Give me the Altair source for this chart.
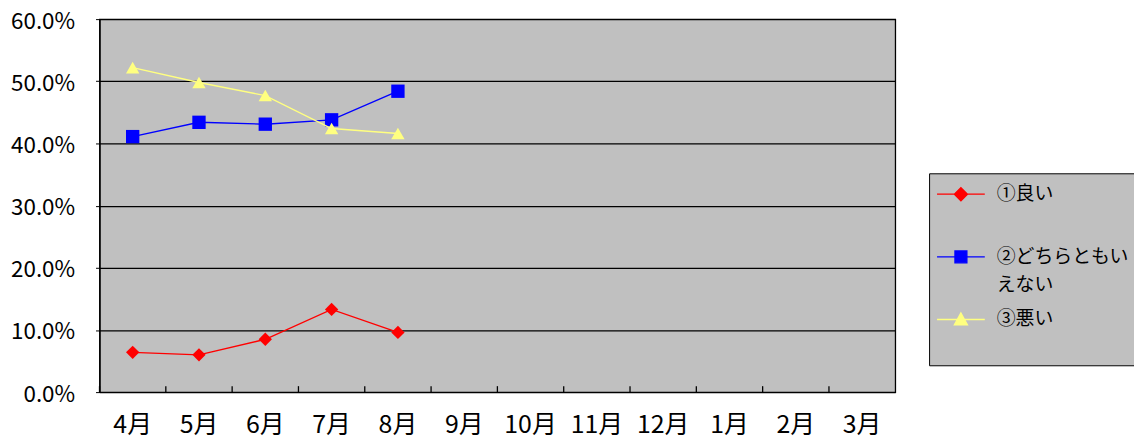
import altair as alt
import pandas as pd

months = ["4月", "5月", "6月", "7月", "8月", "9月", "10月", "11月", "12月", "1月", "2月", "3月"]
series_names = ["①良い", "②どちらともいえない", "③悪い"]
good = [0.064, 0.060, 0.085, 0.133, 0.096]
neutral = [0.411, 0.434, 0.431, 0.438, 0.484]
bad = [0.522, 0.498, 0.477, 0.424, 0.416]

series_values = [good, neutral, bad]

rows = []
for name, vals in zip(series_names, series_values):
    for m, v in zip(months, vals):
        rows.append({"month": m, "series": name, "value": v})
df = pd.DataFrame(rows)
months_df = pd.DataFrame({"month": months})

# styles
colors = ["#ff0000", "#0000ff", "#ffff80"]
shapes = ["diamond", "square", "triangle-up"]
legend_paths = [
    "M-2,0H2M0,-0.55L0.55,0L0,0.55L-0.55,0Z",
    "M-2,0H2M-0.5,-0.5H0.5V0.5H-0.5Z",
    "M-2,0H2M0,-0.55L0.55,0.45L-0.55,0.45Z",
]
FONT = "Noto Sans CJK JP"
W, H = 800, 375
PLOT_BG = "#c0c0c0"

x_scale = alt.Scale(type="band", domain=months, paddingInner=0, paddingOuter=0)
x_axis = alt.Axis(title=None, labelAngle=0, ticks=False, domain=False, labelFont=FONT,
                  labelFontSize=25, labelColor="black", labelPadding=21, grid=False)
y_enc = alt.Y("value:Q", scale=alt.Scale(domain=[0, 0.6], nice=False),
              axis=alt.Axis(title=None, format=".1%", values=[0, 0.1, 0.2, 0.3, 0.4, 0.5, 0.6],
                            grid=True, gridColor="black", gridWidth=1.3, gridOpacity=1,
                            domain=True, domainColor="black", domainWidth=1.3,
                            tickColor="black", tickSize=4, labelFont=FONT, labelFontSize=22.5,
                            labelColor="black", labelPadding=21, labelOffset=2))

layers = []
# inward x ticks at category boundaries
ticks = alt.Chart(months_df).mark_rule(color="black", strokeWidth=1.3).encode(
    x=alt.X("month:N", sort=months, scale=x_scale, axis=x_axis, bandPosition=0),
    y=alt.value(H),
    y2=alt.value(H - 6),
)
layers.append(ticks)

for name, c, s in zip(series_names, colors, shapes):
    sub = alt.Chart(df).transform_filter(alt.datum.series == name)
    enc = dict(x=alt.X("month:N", sort=months, scale=x_scale, axis=x_axis, bandPosition=0.5), y=y_enc)
    layers.append(sub.mark_line(color=c, strokeWidth=1.4).encode(**enc))
    layers.append(sub.mark_point(shape=s, filled=True, size=180, color=c, opacity=1).encode(**enc))

legend = alt.Legend(title=None, orient="none", legendX=834, legendY=155,
                    fillColor=PLOT_BG, strokeColor="black", padding=8,
                    symbolSize=576, symbolStrokeWidth=1.3, symbolOffset=11,
                    labelOffset=23, labelFont=FONT, labelFontSize=19, labelColor="black",
                    labelLimit=400, rowPadding=12,
                    labelExpr="datum.label == '②どちらともいえない' ? ['　②どちらともい', ' えない'] : ['　' + datum.label, '']")
leg_scale_color = alt.Scale(domain=series_names, range=colors)
legend_layer = alt.Chart(df).transform_filter("false").mark_point(filled=True, opacity=1).encode(
    stroke=alt.Stroke("series:N", scale=leg_scale_color, legend=legend),
    fill=alt.Fill("series:N", scale=leg_scale_color, legend=legend),
    shape=alt.Shape("series:N", scale=alt.Scale(domain=series_names, range=legend_paths), legend=legend),
)
layers.append(legend_layer)

chart = alt.layer(*layers).properties(
    width=W, height=H,
    padding={"left": 92, "top": 10, "right": 240, "bottom": 55},
    autosize=alt.AutoSizeParams(type="none"),
    view=alt.ViewBackground(fill=PLOT_BG, stroke="black", strokeWidth=1.3),
).configure(
    background="white",
    view=alt.ViewConfig(fill=PLOT_BG, stroke="black", strokeWidth=1.3),
    style={"guide-label": {"lineHeight": 28}},
)

chart.save("out.html", embed_options={"renderer": "svg", "actions": False})
